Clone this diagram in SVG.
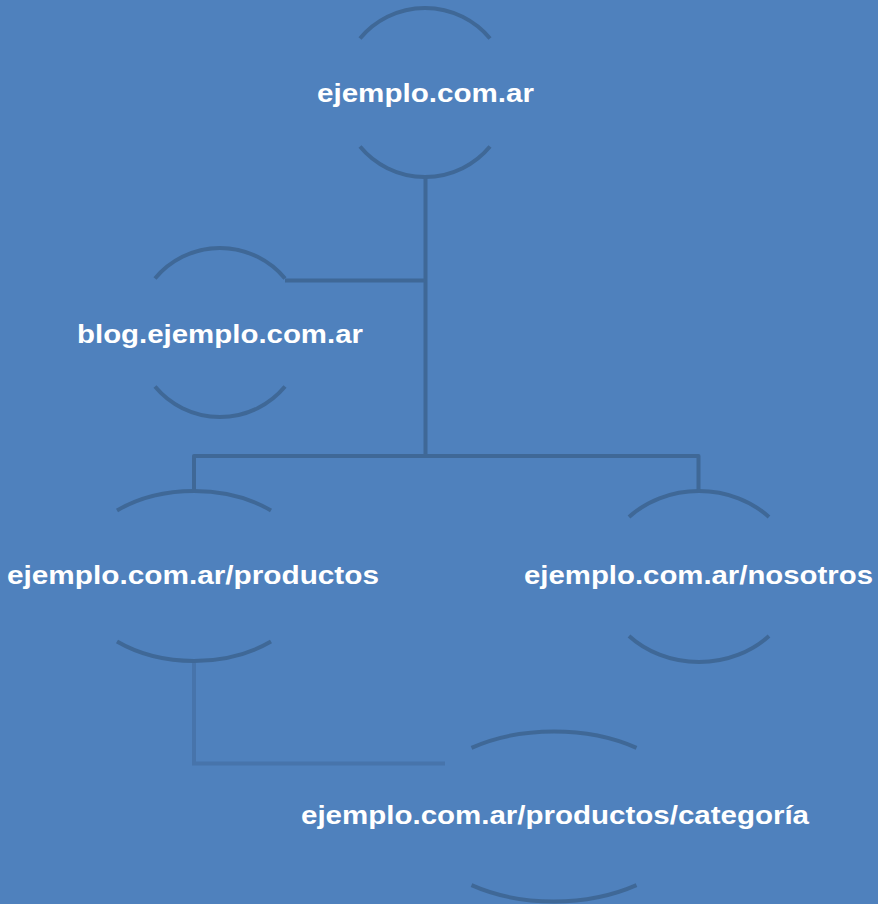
<svg xmlns="http://www.w3.org/2000/svg" width="878" height="904" viewBox="0 0 878 904">
  <style>
    .arc { fill: none; stroke: #3f6897; stroke-width: 4; }
    .conn { fill: none; stroke: #3f6897; stroke-width: 4; stroke-linejoin: round; }
    .conn2 { fill: none; stroke: #4774ab; stroke-width: 4; }
    .lbl { font-family: "Liberation Sans", Arial, sans-serif; font-weight: bold; font-size: 25px; fill: #ffffff; text-anchor: middle; }
  </style>
  <rect x="0" y="0" width="878" height="904" fill="#4f81bd"/>
  <g id="connectors">
    <path class="conn" d="M425.5,177 V456"/>
    <path class="conn" d="M285,280.5 H425.5"/>
    <path class="conn" d="M194,491 V456 H698.5 V491"/>
    <path class="conn2" d="M194,661 V763.5 H445"/>
  </g>
  <g id="node-root">
    <path class="arc" d="M360,38.5 A84.5,84.5 0 0 1 490,38.5"/>
    <path class="arc" d="M360,146.5 A84.5,84.5 0 0 0 490,146.5"/>
    <text class="lbl" x="425.5" y="101.5" textLength="217" lengthAdjust="spacingAndGlyphs">ejemplo.com.ar</text>
  </g>
  <g id="node-blog">
    <path class="arc" d="M155,278.5 A84.5,84.5 0 0 1 285,278.5"/>
    <path class="arc" d="M155,386.5 A84.5,84.5 0 0 0 285,386.5"/>
    <text class="lbl" x="220" y="342.5" textLength="286" lengthAdjust="spacingAndGlyphs">blog.ejemplo.com.ar</text>
  </g>
  <g id="node-productos">
    <path class="arc" d="M117,510.4 A121,85 0 0 1 271,510.4"/>
    <path class="arc" d="M117,641.6 A121,85 0 0 0 271,641.6"/>
    <text class="lbl" x="193" y="584" textLength="372" lengthAdjust="spacingAndGlyphs">ejemplo.com.ar/productos</text>
  </g>
  <g id="node-nosotros">
    <path class="arc" d="M629,517 A97.5,85.5 0 0 1 769,517"/>
    <path class="arc" d="M629,636 A97.5,85.5 0 0 0 769,636"/>
    <text class="lbl" x="698.5" y="584" textLength="349" lengthAdjust="spacingAndGlyphs">ejemplo.com.ar/nosotros</text>
  </g>
  <g id="node-categoria">
    <path class="arc" d="M471.5,747.8 A140,85 0 0 1 636.5,747.8"/>
    <path class="arc" d="M471.5,885.2 A140,85 0 0 0 636.5,885.2"/>
    <text class="lbl" x="555" y="824" textLength="508" lengthAdjust="spacingAndGlyphs">ejemplo.com.ar/productos/categoría</text>
  </g>
</svg>
